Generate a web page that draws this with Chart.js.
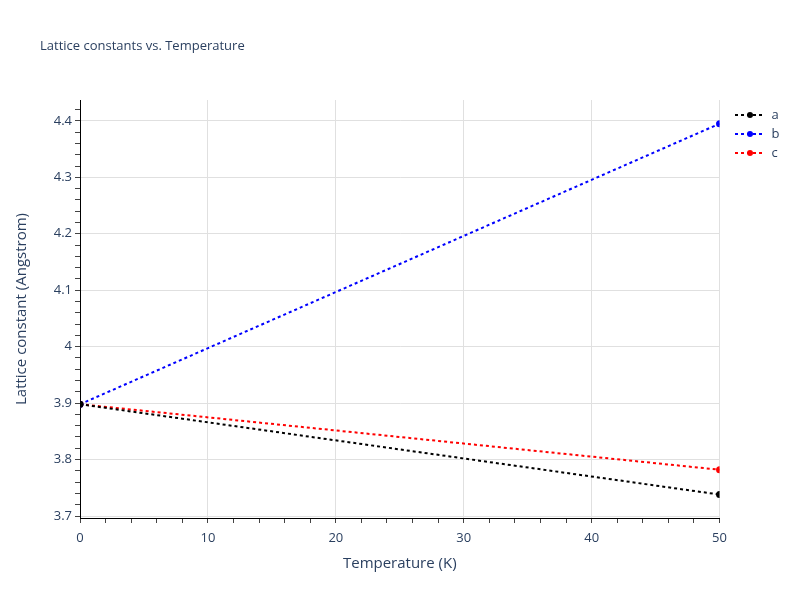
<!DOCTYPE html>
<html>
<head>
<meta charset="utf-8">
<script src="https://cdn.jsdelivr.net/npm/chart.js@4/dist/chart.umd.min.js"></script>
<style>
  html, body { margin: 0; padding: 0; background: #fff; }
  #wrap { width: 800px; height: 600px; }
</style>
</head>
<body>
<div id="wrap"><canvas id="c" width="800" height="600"></canvas></div>
<script>
// ---- data ----
const temperatures = [0, 50];
const seriesNames = ['a', 'b', 'c'];
const aValues = [3.898, 3.738];
const bValues = [3.898, 4.395];
const cValues = [3.898, 3.782];
const seriesColors = ['#000000', '#0000ff', '#ff0000'];
const xTickLabels = [0, 10, 20, 30, 40, 50];
const yTickLabels = [3.7, 3.8, 3.9, 4.0, 4.1, 4.2, 4.3, 4.4];

const FONT = '"Open Sans", "Noto Sans", sans-serif';
const TXT = '#2a3f5f';

function legendIcon(color) {
  const cv = document.createElement('canvas');
  cv.width = 30; cv.height = 10;
  const g = cv.getContext('2d');
  g.strokeStyle = color; g.lineWidth = 2; g.setLineDash([3, 3]);
  g.beginPath(); g.moveTo(0, 5); g.lineTo(30, 5); g.stroke();
  g.setLineDash([]);
  g.fillStyle = color;
  g.beginPath(); g.arc(15, 5, 3, 0, Math.PI * 2); g.fill();
  return cv;
}

const allSeries = [aValues, bValues, cValues];
const datasets = allSeries.map((vals, i) => ({
  label: seriesNames[i],
  data: temperatures.map((t, k) => ({ x: t, y: vals[k] })),
  borderColor: seriesColors[i],
  backgroundColor: seriesColors[i],
  borderWidth: 2,
  borderDash: [3, 3],
  pointRadius: 3.5,
  pointHoverRadius: 3.5,
  pointBorderWidth: 0,
  showLine: true,
  fill: false
}));

const near = (v, arr) => arr.some(a => Math.abs(a - v) < 1e-6);

const posPlugin = {
  id: 'pos',
  afterLayout(chart) {
    if (chart.titleBlock) { chart.titleBlock.left = 40; }
    if (chart.legend) { chart.legend.left = 729; chart.legend.top = 102.5; }
  }
};

new Chart(document.getElementById('c'), {
  type: 'scatter',
  data: { datasets },
  plugins: [posPlugin],
  options: {
    responsive: false,
    animation: false,
    layout: { padding: { left: 0, right: 20, top: 0, bottom: 0 } },
    plugins: {
      title: {
        display: true,
        text: 'Lattice constants vs. Temperature',
        align: 'start',
        color: TXT,
        font: { family: FONT, size: 13, weight: 'normal', lineHeight: 1.2 },
        padding: { top: 38, bottom: 46.4 }
      },
      legend: {
        display: true,
        position: 'right',
        align: 'start',
        fullSize: false,
        labels: {
          usePointStyle: true,
          pointStyleWidth: 30,
          padding: 6,
          color: TXT,
          font: { family: FONT, size: 13 },
          generateLabels(chart) {
            return chart.data.datasets.map((ds, i) => ({
              text: ds.label,
              fillStyle: ds.borderColor,
              strokeStyle: ds.borderColor,
              pointStyle: legendIcon(ds.borderColor),
              hidden: false,
              datasetIndex: i,
              fontColor: TXT,
              lineWidth: 0
            }));
          }
        }
      },
      tooltip: { enabled: false }
    },
    scales: {
      x: {
        type: 'linear',
        min: 0,
        max: 50,
        afterFit(s) { s.height = 82; },
        afterBuildTicks(s) {
          const t = [];
          for (let v = 0; v <= 50 + 1e-9; v += 2) t.push({ value: Math.round(v * 1000) / 1000 });
          s.ticks = t;
        },
        border: { display: true, color: '#000', width: 1 },
        grid: {
          color: ctx => (ctx.tick && near(ctx.tick.value, xTickLabels)) ? '#e0e0e0' : 'rgba(0,0,0,0)',
          tickColor: '#444',
          tickLength: 5,
          drawTicks: true,
          lineWidth: 1
        },
        ticks: {
          color: TXT,
          padding: 7,
          maxRotation: 0,
          autoSkip: false,
          font: { family: FONT, size: 13 },
          callback: v => near(v, xTickLabels) ? String(v) : ''
        },
        title: {
          display: true,
          text: 'Temperature (K)',
          color: TXT,
          font: { family: FONT, size: 15, lineHeight: 1.2 },
          padding: { top: 0, bottom: 27 }
        }
      },
      y: {
        type: 'linear',
        min: 3.6965,
        max: 4.437,
        afterFit(s) { s.width = 80; },
        afterBuildTicks(s) {
          const t = [];
          for (let k = 185; k <= 221; k++) {
            const v = Math.round(k * 0.02 * 1000) / 1000;
            if (v >= 3.6965 && v <= 4.437) t.push({ value: v });
          }
          s.ticks = t;
        },
        border: { display: true, color: '#000', width: 1 },
        grid: {
          color: ctx => (ctx.tick && near(ctx.tick.value, yTickLabels)) ? '#e0e0e0' : 'rgba(0,0,0,0)',
          tickColor: '#444',
          tickLength: 5,
          drawTicks: true,
          lineWidth: 1
        },
        ticks: {
          color: TXT,
          padding: 3,
          autoSkip: false,
          font: { family: FONT, size: 13 },
          callback: v => near(v, yTickLabels) ? String(Math.round(v * 10) / 10) : ''
        },
        title: {
          display: true,
          text: 'Lattice constant (Angstrom)',
          color: TXT,
          font: { family: FONT, size: 15, lineHeight: 1.2 },
          padding: { top: 13, bottom: 0 }
        }
      }
    }
  }
});
</script>
</body>
</html>
